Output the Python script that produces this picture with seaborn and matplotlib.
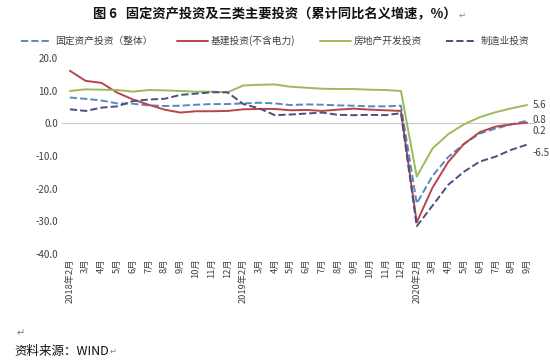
import numpy as np
import pandas as pd
import matplotlib
matplotlib.use('Agg')
import matplotlib.pyplot as plt
import seaborn as sns
from matplotlib.lines import Line2D

# months on the x axis
months = (['2018年2月'] + ['%d月' % m for m in range(3, 13)] +
          ['2019年2月'] + ['%d月' % m for m in range(3, 13)] +
          ['2020年2月'] + ['%d月' % m for m in range(3, 10)])

# cumulative y/y growth, %
fai = [7.9, 7.5, 7.0, 6.1, 6.0, 5.5, 5.3, 5.4, 5.7, 5.9, 5.9,
       6.1, 6.3, 6.1, 5.6, 5.8, 5.7, 5.5, 5.4, 5.2, 5.2, 5.4,
       -24.5, -16.1, -10.3, -6.3, -3.1, -1.6, -0.3, 0.8]
infra = [16.1, 13.0, 12.4, 9.4, 7.3, 5.7, 4.2, 3.3, 3.7, 3.7, 3.8,
         4.3, 4.4, 4.4, 4.0, 4.1, 3.8, 4.2, 4.5, 4.2, 4.0, 3.8,
         -30.3, -19.7, -11.8, -6.3, -2.7, -1.0, -0.3, 0.2]
estate = [9.9, 10.4, 10.3, 10.2, 9.7, 10.2, 10.1, 9.9, 9.7, 9.7, 9.5,
          11.6, 11.8, 11.9, 11.2, 10.9, 10.6, 10.5, 10.5, 10.3, 10.2, 9.9,
          -16.3, -7.7, -3.3, -0.3, 1.9, 3.4, 4.6, 5.6]
manuf = [4.3, 3.8, 4.8, 5.2, 6.8, 7.3, 7.5, 8.7, 9.1, 9.5, 9.5,
         5.9, 4.6, 2.5, 2.7, 3.0, 3.3, 2.6, 2.5, 2.6, 2.5, 3.1,
         -31.5, -25.2, -18.8, -14.8, -11.7, -10.2, -8.1, -6.5]

names = ['固定资产投资（整体）', '基建投资(不含电力)', '房地产开发投资', '制造业投资']
series = [fai, infra, estate, manuf]
colors = ['#5a87bf', '#b8454a', '#9bbb59', '#4b4f7f']
styles = ['--', '-', '-', '--']

sns.set_style('white')
plt.rcParams['font.family'] = ['Noto Sans CJK SC', 'DejaVu Sans']
plt.rcParams['axes.unicode_minus'] = False

fig = plt.figure(figsize=(5.5, 3.63), dpi=100)
ax = fig.add_axes([0.1127, 0.3003, 0.86, 0.5399])

x = np.arange(len(months))
for name, vals, c, ls in zip(names, series, colors, styles):
    df = pd.DataFrame({'x': x, 'y': vals})
    sns.lineplot(data=df, x='x', y='y', ax=ax, color=c, linestyle=ls,
                 linewidth=1.4, legend=False)

ax.axhline(0, color='#c8c8c8', linewidth=0.8, zorder=0)
ax.set_xlim(-0.5, len(months) - 0.5)
ax.set_ylim(-40, 20)
ax.set_yticks(np.arange(-40, 21, 10))
ax.set_yticklabels(['%.1f' % v for v in np.arange(-40, 21, 10)], fontsize=7, color='#404040')
ax.set_xticks(x)
ax.set_xticklabels(months, rotation=90, fontsize=6.7, color='#404040', va='top')
ax.tick_params(axis='both', length=0, pad=3)
ax.set_xlabel('')
ax.set_ylabel('')
for s in ax.spines.values():
    s.set_visible(False)

# end-of-line value labels (nudged so they don't overlap)
for vals, off in zip([estate, fai, infra, manuf], [0.0, 0.3, -2.4, -2.6]):
    ax.text(len(months) - 1 + 0.35, vals[-1] + off, '%.1f' % vals[-1],
            fontsize=7, color='#404040', va='center', ha='left', clip_on=False)

handles = [Line2D([0], [0], color=c, linestyle=ls, linewidth=1.4)
           for c, ls in zip(colors, styles)]
fig.legend(handles, names, loc='center', bbox_to_anchor=(0.5, 0.888), ncol=4,
           frameon=False, fontsize=7, handlelength=3.2, columnspacing=2.5,
           handletextpad=0.3, labelcolor='#404040')

fig.text(0.5, 1 - 14 / 363, '图 6   固定资产投资及三类主要投资（累计同比名义增速，%）',
         ha='center', va='center', fontsize=9.5, fontweight='bold', color='#111111')
fig.text(0.834, 1 - 15 / 363, '↵', fontsize=6, color='#888888', va='center')
fig.text(0.03, 1 - 333 / 363, '↵', fontsize=7, color='#777777', va='center')
fig.text(0.027, 1 - 351 / 363, '资料来源：WIND', fontsize=9, color='#111111', va='center')
fig.text(0.2, 1 - 351 / 363, '↵', fontsize=6, color='#888888', va='center')

fig.savefig('out.png', dpi=100, facecolor='white')
